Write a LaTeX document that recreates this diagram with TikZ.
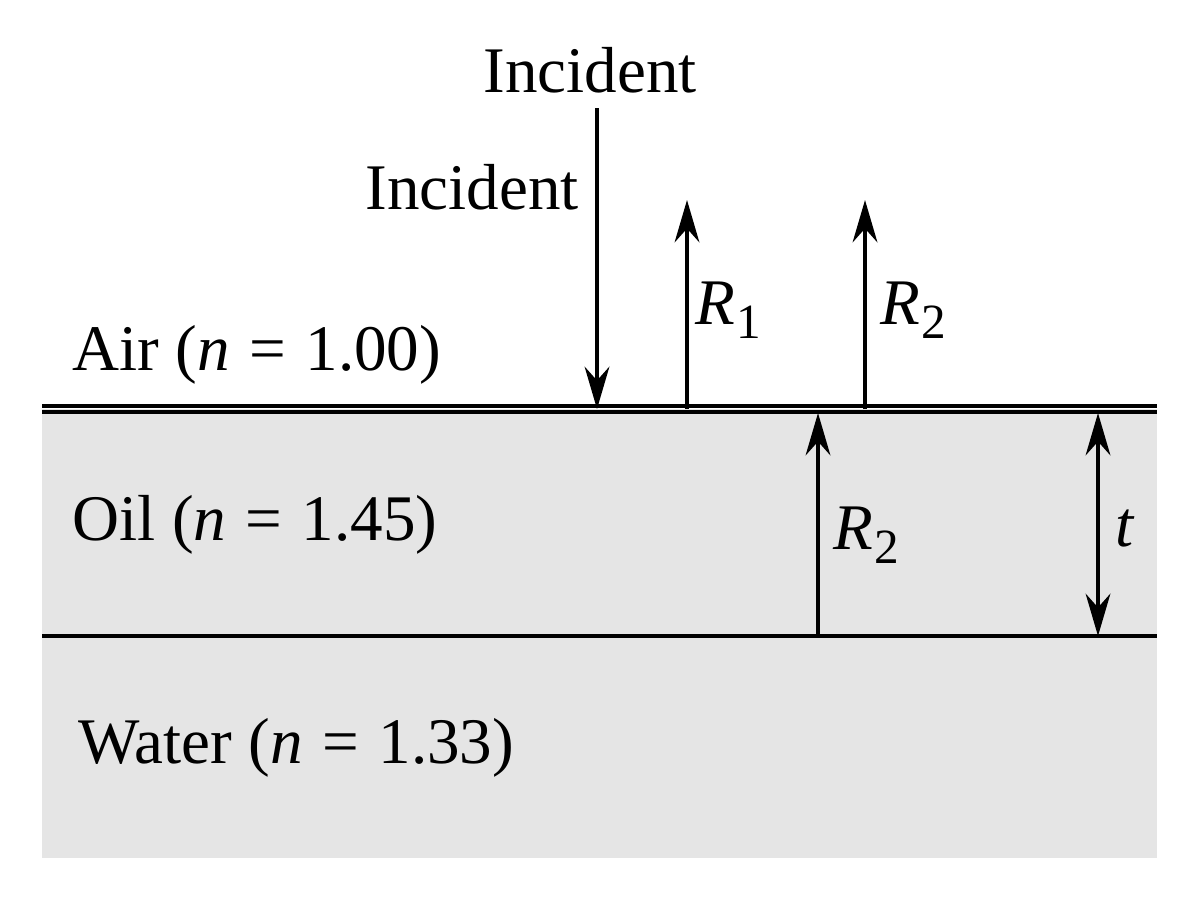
\documentclass[tikz,border=0pt]{standalone}
\usepackage{fontspec}
\setmainfont{Liberation Serif}
\usetikzlibrary{arrows.meta}
\newcommand{\Rsub}[1]{\textit{R}\kern0.02em\raisebox{-0.22em}{\fontsize{14}{15}\selectfont #1}}
\newcommand{\eqn}[1]{(\textit{n}\hspace{0.3em}=\hspace{0.3em}#1)}
\begin{document}
\begin{tikzpicture}[x=0.01cm,y=-0.01cm,
  lbl/.style={inner sep=0pt,font=\fontsize{18.5}{20}\selectfont},
  ray/.style={line width=1.3pt,-{Stealth[length=12pt,width=7pt]}},
  bound/.style={line width=1.4pt}]
\useasboundingbox (0,0) rectangle (1200,896);
\fill[gray!20] (42,409) rectangle (1157,858);
\coordinate (ul) at (42,406); \coordinate (ur) at (1157,406);
\coordinate (ul2) at (42,412); \coordinate (ur2) at (1157,412);
\coordinate (ll) at (42,636); \coordinate (lr) at (1157,636);
\draw[bound] (ul) -- (ur);
\draw[bound] (ul2) -- (ur2);
\draw[bound] (ll) -- (lr);
\node[lbl] (inc1) at (590,70) {Incident};
\node[lbl] (inc2) at (472,187) {Incident};
\coordinate (is) at (597,108); \coordinate (ie) at (597,409);
\draw[ray] (is) -- (ie);
\coordinate (r1s) at (687,409); \coordinate (r1e) at (687,200);
\draw[ray] (r1s) -- (r1e);
\coordinate (r2s) at (865,409); \coordinate (r2e) at (865,200);
\draw[ray] (r2s) -- (r2e);
\coordinate (r3s) at (818,636); \coordinate (r3e) at (818,413);
\draw[ray] (r3s) -- (r3e);
\coordinate (ts) at (1098,413); \coordinate (te) at (1098,636);
\draw[line width=1.3pt,{Stealth[length=12pt,width=7pt]}-{Stealth[length=12pt,width=7pt]}] (ts) -- (te);
\node[lbl] (lr1) at (728,310) {\Rsub{1}};
\node[lbl] (lr2) at (913,310) {\Rsub{2}};
\node[lbl] (lr3) at (866,535) {\Rsub{2}};
\node[lbl] (lt) at (1125,528) {\textit{t}};
\node[lbl,anchor=west] (air) at (72,355) {Air \eqn{1.00}};
\node[lbl,anchor=west] (oil) at (72,525) {Oil \eqn{1.45}};
\node[lbl,anchor=west] (wat) at (78,748) {Water \eqn{1.33}};
\end{tikzpicture}
\end{document}
